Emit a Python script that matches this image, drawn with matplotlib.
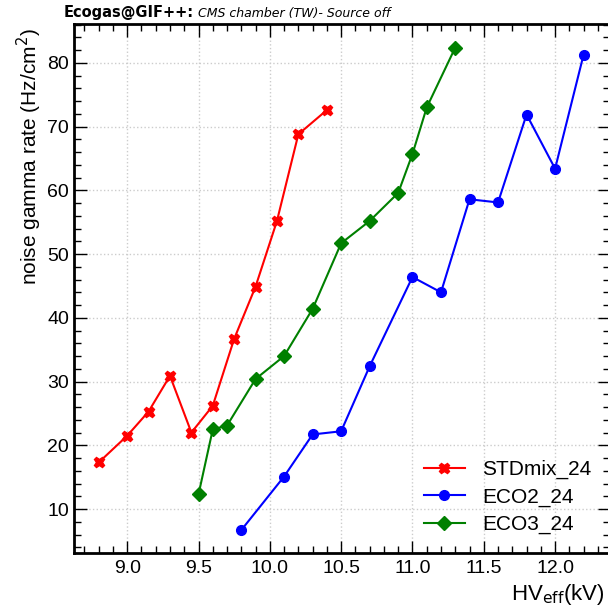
import numpy as np
import matplotlib
matplotlib.use("Agg")
from matplotlib import pyplot as plt
from matplotlib.ticker import MultipleLocator

# noise gamma rate vs effective HV, source off
hv_std = [8.8, 9.0, 9.15, 9.3, 9.45, 9.6, 9.75, 9.9, 10.05, 10.2, 10.4]
rate_std = [17.3, 21.5, 25.3, 30.9, 22.0, 26.2, 36.7, 44.9, 55.2, 68.8, 72.6]

hv_eco2 = [9.8, 10.1, 10.3, 10.5, 10.7, 11.0, 11.2, 11.4, 11.6, 11.8, 12.0, 12.2]
rate_eco2 = [6.7, 15.1, 21.7, 22.2, 32.4, 46.4, 44.0, 58.6, 58.1, 71.9, 63.4, 81.3]

hv_eco3 = [9.5, 9.6, 9.7, 9.9, 10.1, 10.3, 10.5, 10.7, 10.9, 11.0, 11.1, 11.3]
rate_eco3 = [12.3, 22.5, 23.1, 30.4, 34.0, 41.4, 51.7, 55.2, 59.6, 65.7, 73.0, 82.4]

plt.rcParams['font.family'] = ['Liberation Sans', 'DejaVu Sans']

fig = plt.figure(figsize=(6.08, 6.07), dpi=100)
ax = fig.add_axes([74/608, 1-553/607, (610-74)/608, (553-24)/607])

ax.plot(hv_std, rate_std, '-X', color='red', lw=1.5, ms=7.5, label='STDmix_24')
ax.plot(hv_eco2, rate_eco2, '-o', color='blue', lw=1.5, ms=7, label='ECO2_24')
ax.plot(hv_eco3, rate_eco3, '-D', color='green', lw=1.5, ms=7, label='ECO3_24')

ax.set_xlim(8.627, 12.385)
ax.set_ylim(3.1, 86.1)
ax.xaxis.set_major_locator(MultipleLocator(0.5))
ax.xaxis.set_minor_locator(MultipleLocator(0.1))
ax.yaxis.set_major_locator(MultipleLocator(10))
ax.yaxis.set_minor_locator(MultipleLocator(2))
ax.xaxis.set_major_formatter(matplotlib.ticker.FormatStrFormatter('%.1f'))
ax.tick_params(which='both', direction='in', top=True, right=True, labelsize=14)
ax.tick_params(which='major', length=9, width=1)
ax.tick_params(which='minor', length=5, width=1)
ax.tick_params(axis='x', pad=5)
ax.grid(True, which='major', color='#cccccc', ls=':', lw=1)
for s in ax.spines.values():
    s.set_linewidth(2)

ax.set_ylabel(r"noise gamma rate (Hz/cm$^2$)", fontsize=15, loc='top')
ax.yaxis.set_label_coords(-(74-44)/536, 0.992)
ax.set_xlabel(r"HV$_{\rm eff}$(kV)", fontsize=16, loc='right', labelpad=3)
ax.xaxis.set_label_coords((605-74)/536, -0.055)
ax.xaxis.label.set_horizontalalignment('right')

fig.text(64/608, 1-13/607, "Ecogas@GIF++:", fontsize=10.5, fontweight='bold',
         family='DejaVu Sans', va='center', ha='left')
fig.text(198/608, 1-13/607, "CMS chamber (TW)- Source off", fontsize=9,
         style='italic', family='DejaVu Sans', va='center', ha='left')

ax.legend(loc='lower right', bbox_to_anchor=(1.0, 0.0), frameon=False,
          fontsize=15, handlelength=2.0, labelspacing=0.4)

fig.savefig("out.png", dpi=100)
